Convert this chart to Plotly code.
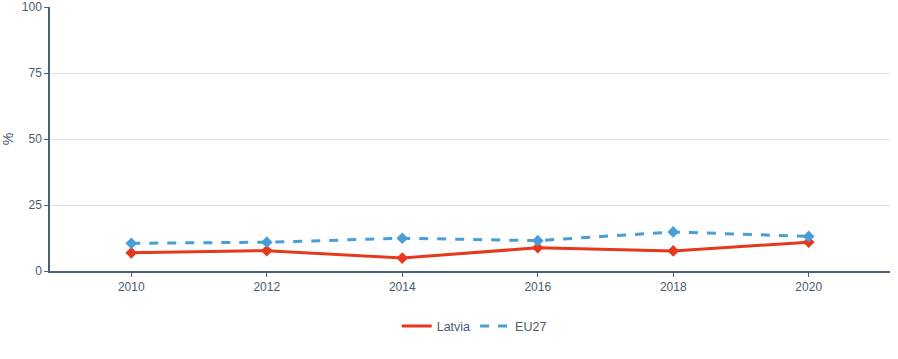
import plotly.graph_objects as go

years = [2010, 2012, 2014, 2016, 2018, 2020]
latvia = [6.9, 7.7, 4.9, 8.8, 7.6, 10.9]
eu27 = [10.5, 10.9, 12.4, 11.5, 14.8, 13.1]

axis_col = "#4b6073"
font_col = "#4b5b6b"
red = "#e5381c"
blue = "#4a9dd6"

fig = go.Figure()
fig.add_trace(go.Scatter(x=years, y=latvia, name="Latvia", mode="lines+markers",
                         line=dict(color=red, width=3), showlegend=False,
                         marker=dict(symbol="diamond", size=9, color=red)))
fig.add_trace(go.Scatter(x=years, y=eu27, name="EU27", mode="lines+markers",
                         line=dict(color=blue, width=3, dash="dash"), showlegend=False,
                         marker=dict(symbol="diamond", size=9, color=blue)))
fig.add_trace(go.Scatter(x=[None], y=[None], name="Latvia", mode="lines",
                         line=dict(color=red, width=3)))
fig.add_trace(go.Scatter(x=[None], y=[None], name="EU27", mode="lines",
                         line=dict(color=blue, width=3, dash="dash")))

fig.update_layout(
    width=898, height=359,
    margin=dict(l=50, r=8, t=7, b=88, autoexpand=False),
    paper_bgcolor="white", plot_bgcolor="white",
    font=dict(family="Liberation Sans, Arial, sans-serif", size=12, color=font_col),
    showlegend=True,
    legend=dict(orientation="h", x=0.505, xanchor="center", y=-0.21, yanchor="middle",
                font=dict(size=12.5, color=font_col)),
    xaxis=dict(range=[2008.8, 2021.2], tickvals=years, showgrid=False,
               showline=True, linecolor=axis_col, linewidth=1.5, automargin=False,
               ticks="outside", ticklen=4, tickcolor=axis_col, zeroline=False,
               tickfont=dict(size=12)),
    yaxis=dict(range=[0, 100], tickvals=[0, 25, 50, 75, 100], showgrid=True,
               gridcolor="#e3e3e3", gridwidth=1, showline=True, linecolor=axis_col,
               linewidth=1.5, ticks="outside", ticklen=4, tickcolor=axis_col,
               zeroline=False, title=dict(text="%", standoff=8, font=dict(size=14)),
               tickfont=dict(size=12), automargin=True),
)

fig.write_html("out.html", config={"displayModeBar": False},
               post_script="document.body.style.margin='0';")
